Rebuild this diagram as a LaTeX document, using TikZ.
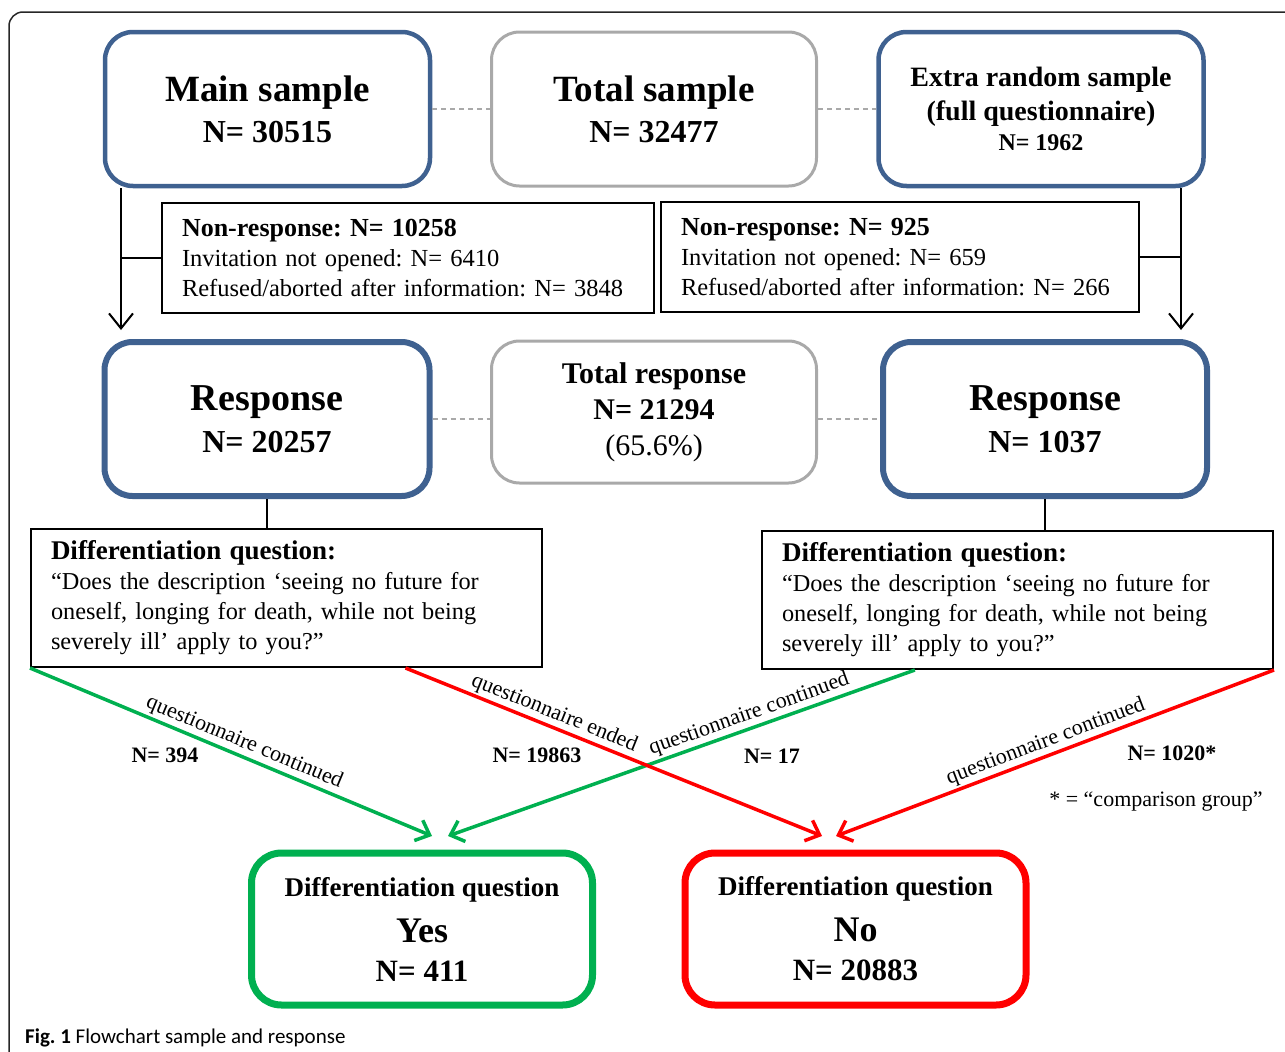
\documentclass[tikz,border=0pt]{standalone}
\usepackage{fontspec}
\setmainfont{Liberation Serif}
\newfontfamily\capfont{Carlito}
\usetikzlibrary{arrows.meta,calc}
\definecolor{bblue}{HTML}{3F6190}
\definecolor{bgray}{HTML}{A9A9A9}
\definecolor{ggreen}{HTML}{00B050}
\definecolor{rred}{HTML}{FF0000}
\newcommand{\fsz}[2]{\fontsize{#1}{#2}\selectfont}
\frenchspacing
\begin{document}
\begin{tikzpicture}[x=1pt,y=-1pt,
  samplebox/.style={rectangle, rounded corners=28pt, draw=bblue, line width=4.5pt,
    minimum width=325pt, minimum height=154pt, align=center, inner sep=0pt},
  graybox/.style={samplebox, draw=bgray, line width=3pt},
  respbox/.style={samplebox, line width=6pt},
  infobox/.style={rectangle, draw=black, line width=2pt, align=left,
    inner xsep=20pt, inner ysep=0pt},
  outbox/.style={rectangle, rounded corners=30pt, line width=7pt,
    minimum width=341pt, minimum height=152pt, align=center, inner sep=0pt},
  dashlink/.style={draw=bgray, line width=1.5pt, dash pattern=on 5pt off 4pt},
  blackarrow/.style={line width=2pt, -{Straight Barb[length=15pt,width=24pt]}},
  plainline/.style={line width=2pt},
  flow/.style={line width=3.5pt, -{Straight Barb[length=12pt,width=22pt]}},
  lab/.style={font=\fsz{22}{24}, sloped, above, inner sep=2pt},
  nlab/.style={font=\bfseries\fsz{22}{24}, inner sep=0pt}
]
\useasboundingbox (0,0) rectangle (1285,1052);
% outer frame
\draw[line width=1.5pt, rounded corners=14pt, black!85] (9,1052) -- (9,12) -- (1285,12);

% top row
\node[samplebox, font=\bfseries\fsz{37}{41}] (main) at (267.5,109)
  {Main sample\\{\fsz{32}{41}N= 30515}};
\node[graybox, font=\bfseries\fsz{37}{41}] (tot) at (654,109)
  {Total sample\\{\fsz{32}{41}N= 32477}};
\node[samplebox, font=\bfseries\fsz{28}{34}] (extra) at (1041,109)
  {Extra random sample\\(full questionnaire)\\[-4pt]{\fsz{24}{34}N= 1962}};
\draw[dashlink] (main.east) -- (tot.west);
\draw[dashlink] (tot.east) -- (extra.west);

% non-response boxes
\node[infobox, text width=452pt, minimum height=110pt, font=\fsz{24.5}{30}] (nr1) at (408,258)
  {{\bfseries\fsz{26}{30}Non-response: N= 10258}\\
   Invitation not opened: N= 6410\\
   Refused/aborted after information: N= 3848};
\node[infobox, text width=438pt, minimum height=110pt, font=\fsz{24.5}{30}] (nr2) at (900,257)
  {{\bfseries\fsz{26}{30}Non-response: N= 925}\\
   Invitation not opened: N= 659\\
   Refused/aborted after information: N= 266};

% response row
\node[respbox, font=\bfseries\fsz{38}{42}] (resp1) at (267,419)
  {Response\\{\fsz{32}{42}N= 20257}};
\node[graybox, minimum height=142pt, font=\fsz{30}{36}] (totr) at (654,412)
  {\textbf{Total response}\\\textbf{N= 21294}\\(65.6\%)};
\node[respbox, minimum width=324pt, font=\bfseries\fsz{38}{42}] (resp2) at (1045,419)
  {Response\\{\fsz{32}{42}N= 1037}};
\draw[dashlink] (resp1.east) -- (resp1.east -| totr.west);
\draw[dashlink] (resp2.west -| totr.east) -- (resp2.west);

% side arrows
\coordinate (la) at (121,330);
\coordinate (ra) at (1181,330);
\draw[blackarrow] (main.south -| la) -- (la);
\draw[plainline] (nr1.west) -- (nr1.west -| la);
\draw[blackarrow] (extra.south -| ra) -- (ra);
\draw[plainline] (nr2.east) -- (nr2.east -| ra);

% differentiation question boxes
\node[infobox, text width=471pt, minimum width=511pt, minimum height=138pt, font=\fsz{24.3}{30}] (d1) at (286.5,598)
  {{\bfseries\fsz{27}{30}Differentiation question:}\\
   “Does the description ‘seeing no future for\\
   oneself, longing for death, while not being\\
   severely ill’ apply to you?”};
\node[infobox, text width=471pt, minimum width=511pt, minimum height=138pt, font=\fsz{24.3}{30}] (d2) at (1017.5,600)
  {{\bfseries\fsz{27}{30}Differentiation question:}\\
   “Does the description ‘seeing no future for\\
   oneself, longing for death, while not being\\
   severely ill’ apply to you?”};
\draw[plainline] (resp1.south) -- (resp1.south |- d1.north);
\draw[plainline] (resp2.south) -- (resp2.south |- d2.north);

% outcome boxes
\node[outbox, draw=ggreen, font=\bfseries\fsz{27}{42}] (yes) at (422,929)
  {Differentiation question\\[4pt]{\fsz{36}{42}Yes}\\[-3pt]{\fsz{31}{42}N= 411}};
\node[outbox, draw=rred, font=\bfseries\fsz{27}{42}] (no) at (855.5,929)
  {Differentiation question\\[4pt]{\fsz{36}{42}No}\\[-3pt]{\fsz{31}{42}N= 20883}};

% flow lines
\coordinate (ty1) at (432,836);
\coordinate (ty2) at (448,836);
\coordinate (tn1) at (822,836);
\coordinate (tn2) at (836,836);
\draw[flow, draw=ggreen] (d1.south west) -- node[lab, pos=0.52] {questionnaire continued} (ty1);
\draw[flow, draw=ggreen] ($(d2.south west)!0.3!(d2.south east)$) -- node[lab, pos=0.345] {questionnaire continued} (ty2);
\draw[flow, draw=rred] ($(d1.south west)!0.732!(d1.south east)$) -- node[lab, pos=0.345] {questionnaire ended} (tn1);
\draw[flow, draw=rred] (d2.south east) -- node[lab, pos=0.51] {questionnaire continued} (tn2);

% counts
\node[nlab] (n394) at (165,755) {N= 394};
\node[nlab] (n19863) at (537,755) {N= 19863};
\node[nlab] (n17) at (772,756) {N= 17};
\node[nlab] (n1020) at (1172,753) {N= 1020*};
\node[font=\fsz{22}{24}, inner sep=0pt] (cmp) at (1156,802) {* = “comparison group”};

% caption
\node[anchor=base west, font=\capfont\fsz{21}{24}, inner sep=0pt] (cap) at (25,1043)
  {\textbf{Fig. 1} Flowchart sample and response};
\end{tikzpicture}
\end{document}
